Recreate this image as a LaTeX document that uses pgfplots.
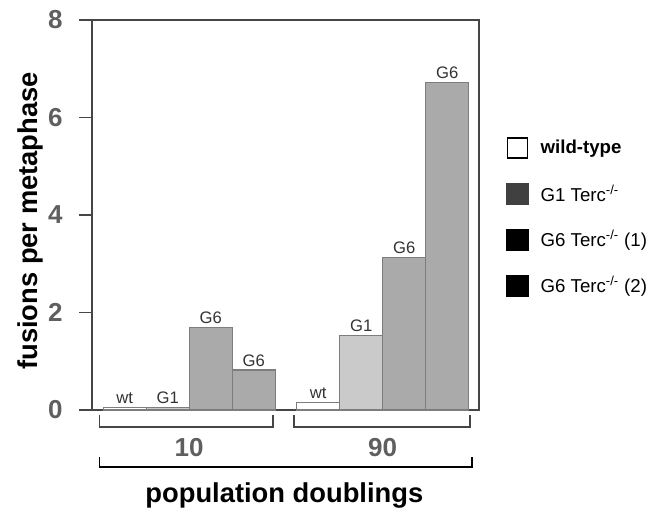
\documentclass[border=0pt]{standalone}
\usepackage{pgfplots}
\pgfplotsset{compat=1.18}
\usepackage{fontspec}
\setmainfont{Liberation Sans}
\definecolor{axgray}{RGB}{70,70,70}
\definecolor{lblgray}{RGB}{95,95,95}
\definecolor{gone}{RGB}{202,202,202}
\definecolor{gsix}{RGB}{170,170,170}
\definecolor{bedge}{RGB}{125,125,125}

% columns: x position, fusions per metaphase, label above the bar
\pgfplotstableread{
x   y    lab
0   0.05 wt
4.5 0.15 wt
}\wt
\pgfplotstableread{
x   y    lab
1   0.05 G1
5.5 1.53 G1
}\gone
\pgfplotstableread{
x   y    lab
2   1.70 G6
6.5 3.13 G6
}\gsixa
\pgfplotstableread{
x   y    lab
3   0.82 G6
7.5 6.72 G6
}\gsixb

\begin{document}
\begin{tikzpicture}
\useasboundingbox (-69pt,-72.75pt) rectangle (420pt,307.5pt);
\begin{axis}[
    scale only axis,
    width=290.25pt, height=292.5pt,
    xmin=-0.76, xmax=8.24,
    ymin=0, ymax=8,
    ytick={0,2,4,6,8},
    ytick pos=left,
    tick align=outside,
    major tick length=9.5pt,
    xtick={1.5,6},
    xticklabels={10,90},
    major x tick style={draw=none},
    xticklabel style={yshift=-8pt, font=\bfseries\fontsize{19.5}{21}\selectfont},
    yticklabel style={xshift=-9pt},
    every tick/.style={axgray, line width=0.9pt},
    axis line style={axgray, line width=0.9pt},
    /pgf/number format/assume math mode=true,
    ticklabel style={font=\bfseries\fontsize{19.5}{21}\selectfont, text=lblgray},
    ylabel={fusions per metaphase},
    ylabel style={at={(axis description cs:-0.16,0.485)}, anchor=center,
                  font=\bfseries\fontsize{20.5}{23}\selectfont},
    xlabel={population doublings},
    xlabel style={at={(axis description cs:0.497,-0.218)}, anchor=center,
                  font=\bfseries\fontsize{20.5}{23}\selectfont},
    clip=false,
    point meta=explicit symbolic,
    nodes near coords,
    every node near coord/.append style={font=\fontsize{12.5}{14}\selectfont, text=black!80, yshift=-1pt},
    legend style={at={(axis description cs:1.06,0.707)}, anchor=north west,
                  draw=none, fill=none, row sep=18pt,
                  font=\fontsize{14}{16}\selectfont,
                  nodes={inner sep=1pt}},
    legend cell align=left,
  ]
  \addplot[ybar, bar width=1, fill=white, draw=bedge, line width=0.8pt, forget plot]
    table[x=x, y=y, meta=lab] {\wt};
  \addplot[ybar, bar width=1, fill=gone, draw=bedge, line width=0.8pt, forget plot]
    table[x=x, y=y, meta=lab] {\gone};
  \addplot[ybar, bar width=1, fill=gsix, draw=bedge, line width=0.8pt, forget plot]
    table[x=x, y=y, meta=lab] {\gsixa};
  \addplot[ybar, bar width=1, fill=gsix, draw=bedge, line width=0.8pt, forget plot]
    table[x=x, y=y, meta=lab] {\gsixb};

  \addlegendimage{legend image code/.code={\draw[black, line width=1.3pt, fill=white] (0pt,-7.5pt) rectangle (15pt,7.5pt);}}
  \addlegendentry{\hspace{8pt}\textbf{wild-type}}
  \addlegendimage{legend image code/.code={\fill[black!75] (-0.6pt,-8pt) rectangle (15.6pt,8pt);}}
  \addlegendentry{\hspace{8pt}G1 Terc\textsuperscript{-/-}}
  \addlegendimage{legend image code/.code={\fill[black] (-0.6pt,-8pt) rectangle (15.6pt,8pt);}}
  \addlegendentry{\hspace{8pt}G6 Terc\textsuperscript{-/-} (1)}
  \addlegendimage{legend image code/.code={\fill[black] (-0.6pt,-8pt) rectangle (15.6pt,8pt);}}
  \addlegendentry{\hspace{8pt}G6 Terc\textsuperscript{-/-} (2)}

  % group brackets under the axis
  \draw[axgray, line width=1pt] (axis cs:-0.59,-0.1) |- (axis cs:3.45,-0.35) -- (axis cs:3.45,-0.1);
  \draw[axgray, line width=1pt] (axis cs:3.94,-0.1) |- (axis cs:8.03,-0.35) -- (axis cs:8.03,-0.1);
  \draw[black, line width=1.1pt] (axis cs:-0.59,-0.96) |- (axis cs:8.08,-1.17) -- (axis cs:8.08,-0.96);
\end{axis}
\end{tikzpicture}
\end{document}
